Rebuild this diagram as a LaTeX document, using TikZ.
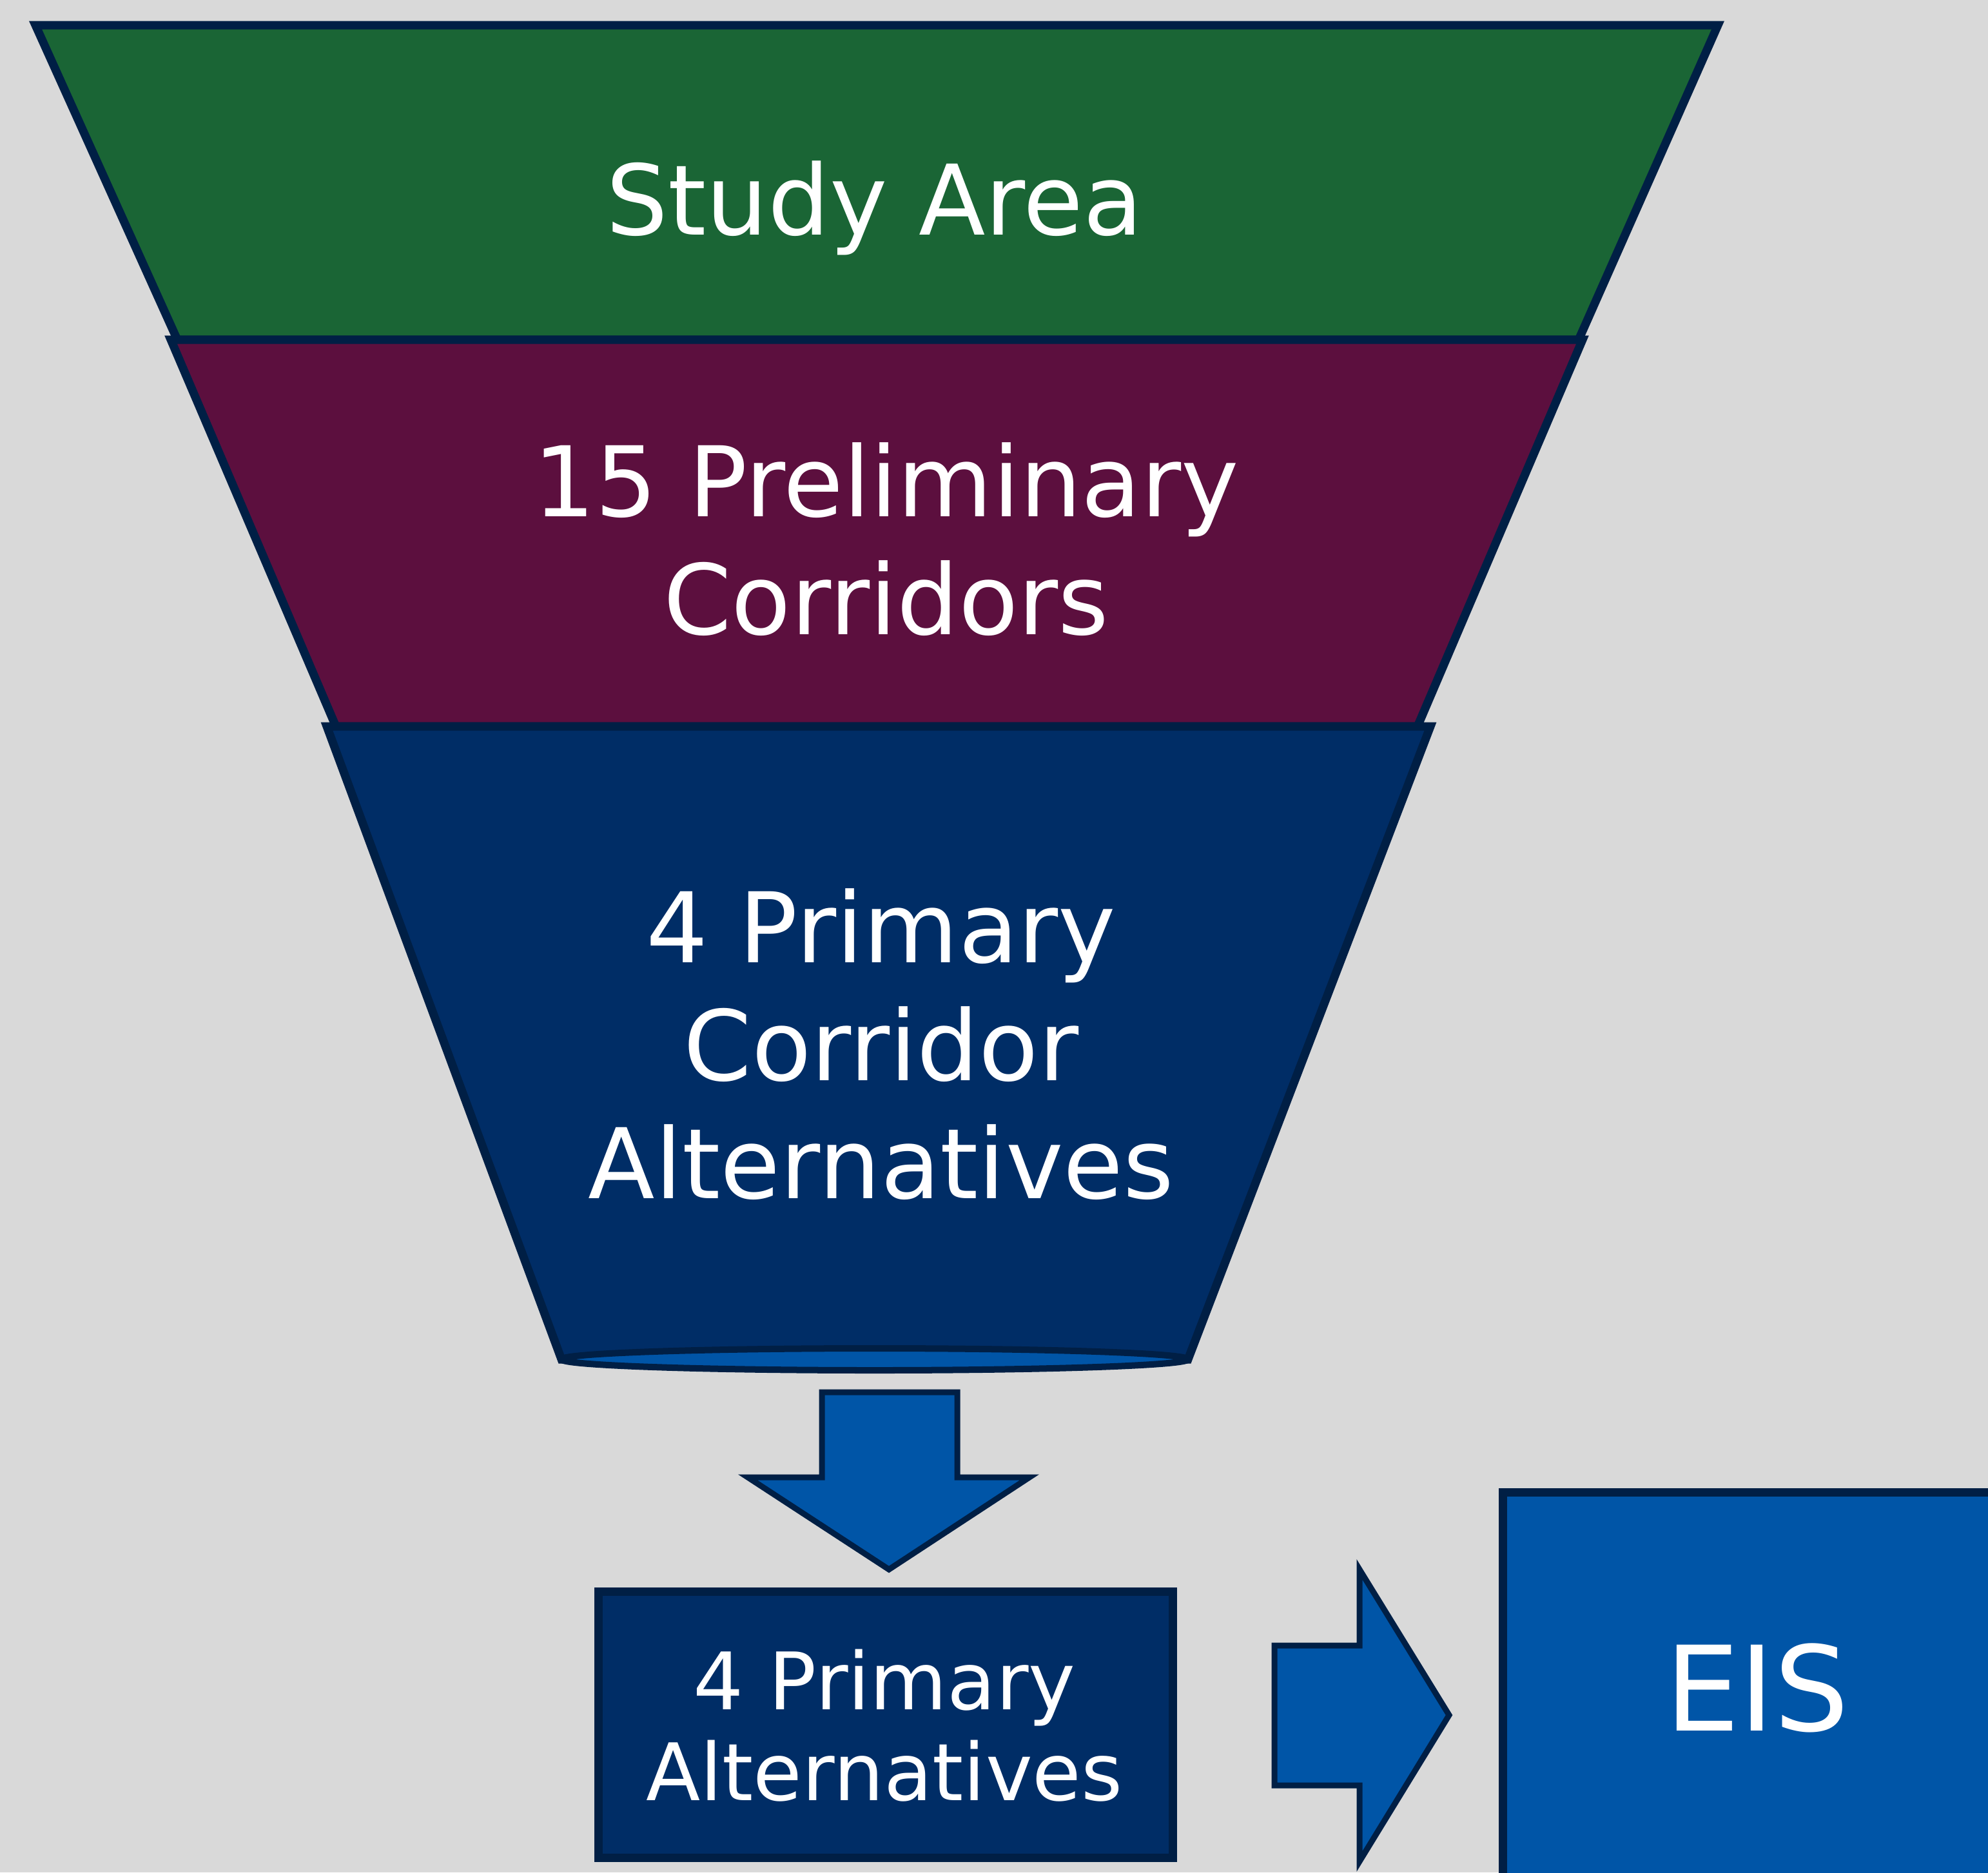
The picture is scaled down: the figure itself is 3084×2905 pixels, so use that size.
\documentclass[tikz,border=0pt]{standalone}
\usepackage{fontspec}
\setmainfont{DejaVu Sans}
\usetikzlibrary{positioning}
\definecolor{bgGray}{HTML}{D9D9D9}
\definecolor{edgeNavy}{HTML}{001F45}
\definecolor{studyGreen}{HTML}{1A6535}
\definecolor{corrPlum}{HTML}{5C0F3E}
\definecolor{primNavy}{HTML}{002D66}
\definecolor{eisBlue}{HTML}{0055A7}
\begin{document}
\begin{tikzpicture}[
x=0.01cm, y=-0.01cm,
stage/.style={draw=edgeNavy, line width=1.3mm, line join=miter},
flow/.style={draw=edgeNavy, fill=eisBlue, line width=0.9mm, line join=miter},
caption/.style={text=white, align=center, anchor=base, font=\fontsize{43}{52}\selectfont},
smallcap/.style={caption, font=\fontsize{35}{40}\selectfont},
bigcap/.style={caption, font=\fontsize{52}{60}\selectfont},
]
\fill[bgGray] (0,0) rectangle (3084,2905);
\useasboundingbox (0,0) rectangle (3084,2905);
\clip (0,0) rectangle (3084,2905);

% funnel
\draw[stage, fill=studyGreen] (55,39) -- (2665,39) -- (2449,527) -- (275,527) -- cycle;
\draw[stage, fill=corrPlum] (265,527) -- (2455,527) -- (2199,1127) -- (521,1127) -- cycle;
\draw[stage, fill=primNavy] (507,1127) -- (2219,1127) -- (1843,2109) -- (871,2109) -- cycle;
\draw[stage, fill=eisBlue, line width=1mm] (1357,2109) ellipse [x radius=486, y radius=17];

% base anchor = last line
\node[caption] (study) at (1357,364) {Study Area};
\node[caption] (prelim) at (1375,984) {15 Preliminary\\Corridors};
\node[caption] (corridor) at (1367,1859) {4 Primary\\Corridor\\Alternatives};

% arrows and boxes
\draw[flow] (1275,2160) -- (1485,2160) -- (1485,2292) -- (1597,2292) -- (1379,2435)
  -- (1160,2292) -- (1275,2292) -- cycle;
\draw[stage, fill=primNavy] (928,2469) rectangle (1819,2882);
\node[smallcap] (alts) at (1372,2793) {4 Primary\\Alternatives};

\draw[flow] (1977,2553) -- (2109,2553) -- (2109,2435) -- (2248,2661) -- (2109,2888)
  -- (2109,2770) -- (1977,2770) -- cycle;
\draw[stage, fill=eisBlue] (2331,2315) rectangle (3200,3000);
\node[bigcap] (eis) at (2726,2685) {EIS};
\end{tikzpicture}
\end{document}
